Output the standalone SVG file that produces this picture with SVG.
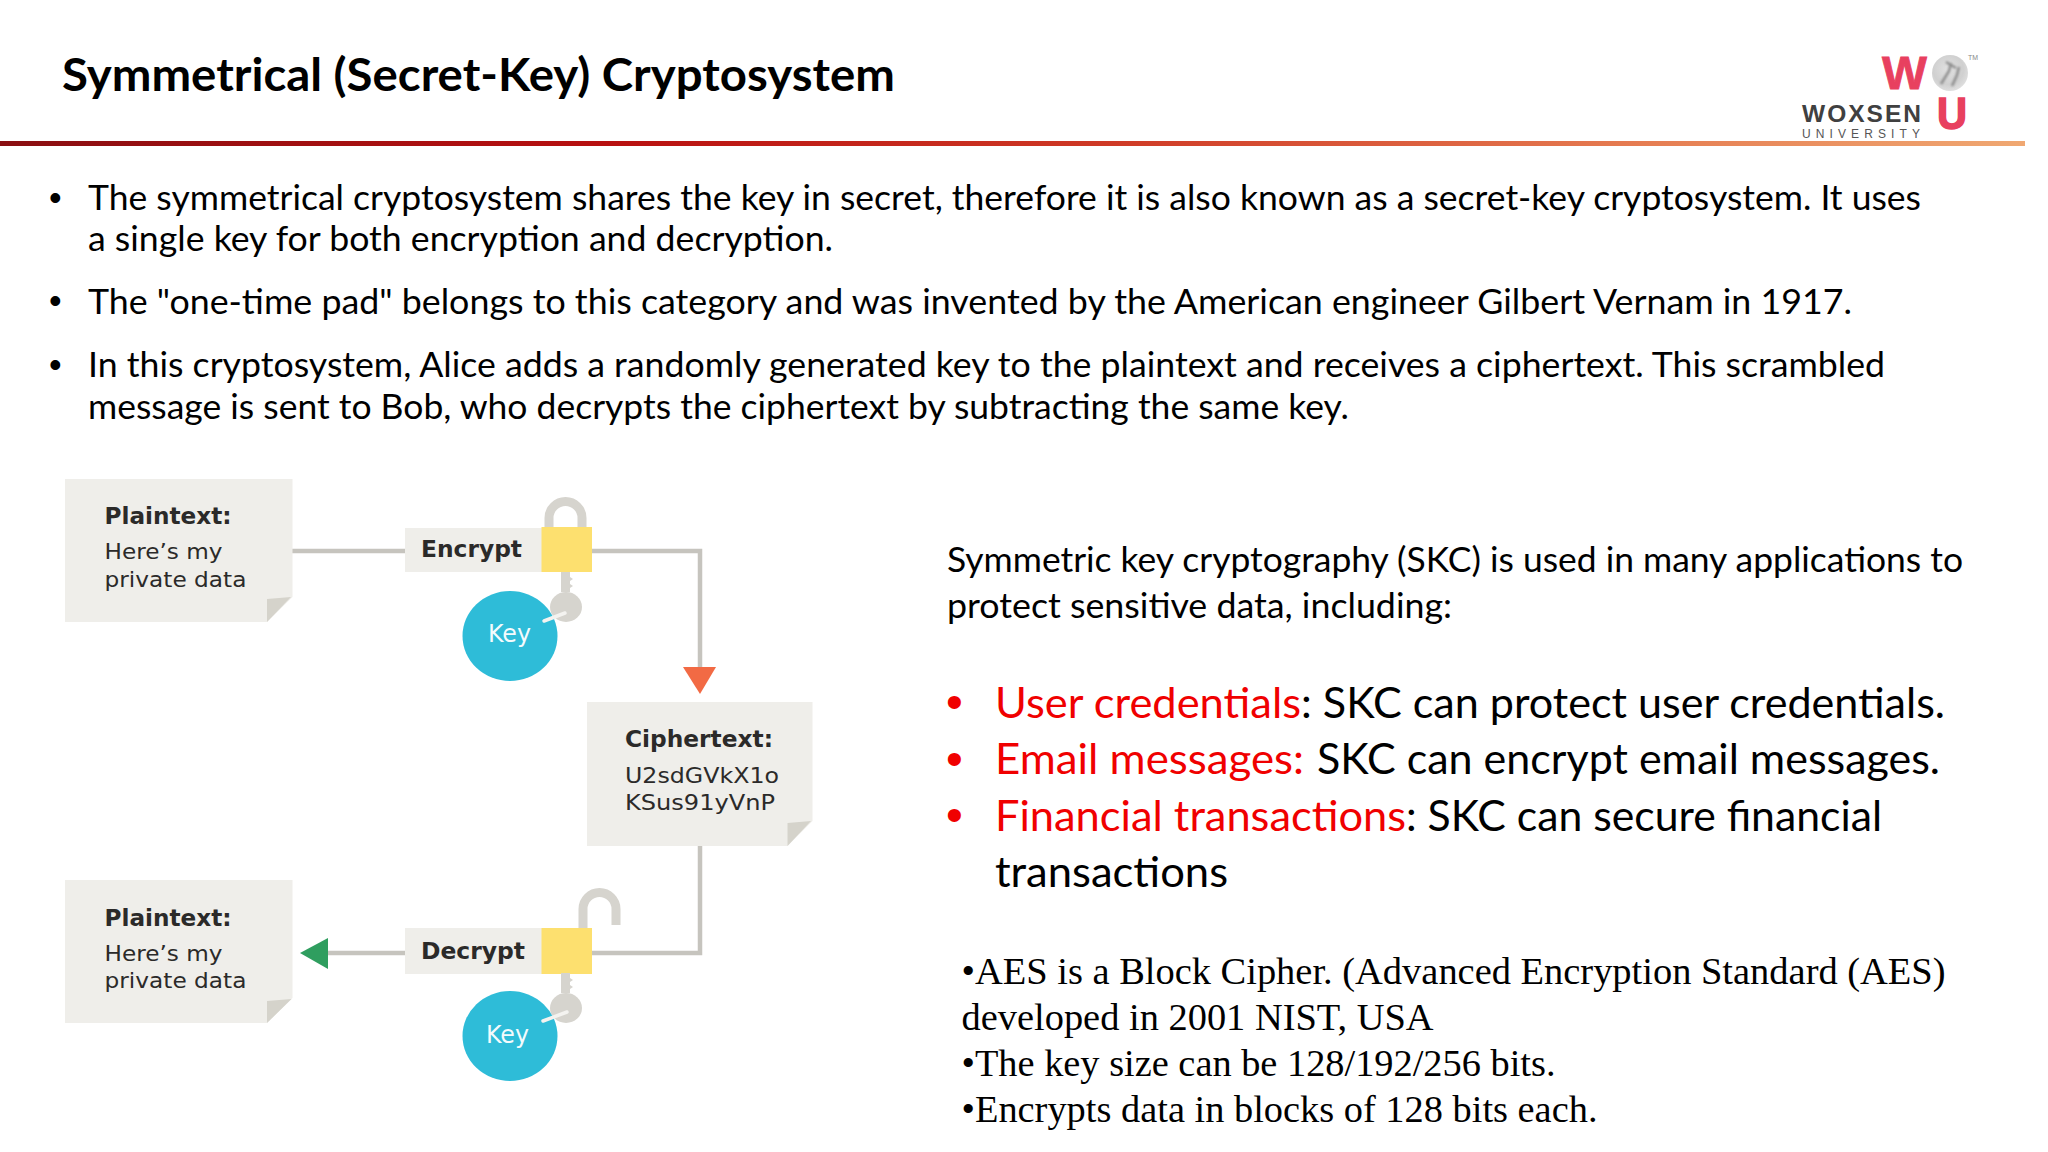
<svg xmlns="http://www.w3.org/2000/svg" width="2048" height="1152" viewBox="0 0 2048 1152">
<style>
.ttl{font:700 46px Lato,"Liberation Sans",sans-serif;fill:#000}
.b{font:400 35px Lato,"Liberation Sans",sans-serif;fill:#000}
.bl{font:400 36px "Liberation Sans",sans-serif;fill:#000}
.m{font:400 35px Lato,"Liberation Sans",sans-serif;fill:#000}
.l{font:400 42px Lato,"Liberation Sans",sans-serif;fill:#000}
.rb{font:400 48px "Liberation Sans",sans-serif;fill:#f00000}
.s{font:400 38px "Liberation Serif",serif;fill:#000}
.db{font:700 23px "DejaVu Sans",sans-serif;fill:#2b2a29}
.d{font:400 22px "DejaVu Sans",sans-serif;fill:#2b2a29}
.k{font:400 24px "DejaVu Sans",sans-serif;fill:#f4fbfd}
.paper{fill:#efeeea}
.fold{fill:#d5d3cb}
.lock{fill:#fde06f}
.tag{fill:#2ebcd8}
.metal{fill:#d6d4ce}
.shackle{fill:none;stroke:#d6d4ce;stroke-width:9}
.conn{fill:none;stroke:#c6c4be;stroke-width:4.500}
.str{fill:none;stroke:#f4f3f0;stroke-width:3.500;stroke-linecap:round}
</style>
<defs>
<linearGradient id="rule" x1="0" x2="1" y1="0" y2="0">
<stop offset="0" stop-color="#8a0f12"/><stop offset="0.3" stop-color="#b81010"/><stop offset="0.55" stop-color="#cf3a26"/><stop offset="0.8" stop-color="#e57a50"/><stop offset="1" stop-color="#f0a872"/>
</linearGradient>
<radialGradient id="globe" cx="0.45" cy="0.4" r="0.7"><stop offset="0" stop-color="#e2e2e2"/><stop offset="0.6" stop-color="#d0d0d0"/><stop offset="1" stop-color="#e6e6e6"/></radialGradient>
<filter id="soft" x="-20%" y="-20%" width="140%" height="140%"><feGaussianBlur stdDeviation="0.900"/></filter>
<g id="keyshape">
<path class="metal" d="M561 0h9v5l3 2-3 2v3l3 2-3 2v4h-9z"/>
<ellipse class="metal" cx="566" cy="35" rx="16" ry="15"/>
</g>
</defs>
<rect width="2048" height="1152" fill="#fff"/>
<g id="header">
<text class="ttl" x="62" y="91" textLength="833" lengthAdjust="spacingAndGlyphs">Symmetrical (Secret-Key) Cryptosystem</text>
<rect x="0" y="141" width="2025" height="5" fill="url(#rule)"/>
</g>
<g id="logo">
<text x="1882" y="89" font-family="Liberation Sans, sans-serif" font-weight="700" font-size="47" fill="#e8405f" stroke="#e8405f" stroke-width="0.800" textLength="45" lengthAdjust="spacingAndGlyphs">W</text>
<circle cx="1950" cy="73" r="18" fill="url(#globe)"/>
<path d="M1941 84l8-13 2-8M1952 86l5-11 2-8M1946 62l10 6" stroke="#8e8e8e" stroke-width="2.500" fill="none" filter="url(#soft)"/>
<text x="1968" y="60" font-family="Liberation Sans, sans-serif" font-size="8" fill="#888" textLength="10" lengthAdjust="spacingAndGlyphs">TM</text>
<text x="1937" y="129" font-family="Liberation Sans, sans-serif" font-weight="700" font-size="44" fill="#e8405f" stroke="#e8405f" stroke-width="1.500" textLength="30" lengthAdjust="spacingAndGlyphs">U</text>
<text x="1802" y="121.500" font-family="Liberation Sans, sans-serif" font-weight="700" font-size="24.500" fill="#404040" textLength="119" lengthAdjust="spacing">WOXSEN</text>
<text x="1802" y="138" font-family="Liberation Sans, sans-serif" font-size="12" fill="#555" textLength="118" lengthAdjust="spacing">UNIVERSITY</text>
</g>
<g id="bullets">
<text class="bl" x="49" y="210">•</text>
<text class="b" x="88" y="210" textLength="1833" lengthAdjust="spacingAndGlyphs">The symmetrical cryptosystem shares the key in secret, therefore it is also known as a secret-key cryptosystem. It uses</text>
<text class="b" x="88" y="251" textLength="745" lengthAdjust="spacingAndGlyphs">a single key for both encryption and decryption.</text>
<text class="bl" x="49" y="313">•</text>
<text class="b" x="88" y="314" textLength="1764" lengthAdjust="spacingAndGlyphs">The "one-time pad" belongs to this category and was invented by the American engineer Gilbert Vernam in 1917.</text>
<text class="bl" x="49" y="377">•</text>
<text class="b" x="88" y="377" textLength="1797" lengthAdjust="spacingAndGlyphs">In this cryptosystem, Alice adds a randomly generated key to the plaintext and receives a ciphertext. This scrambled</text>
<text class="b" x="88" y="418.500" textLength="1261" lengthAdjust="spacingAndGlyphs">message is sent to Bob, who decrypts the ciphertext by subtracting the same key.</text>
</g>
<g id="connectors">
<path class="conn" d="M292 551H405"/>
<path class="conn" d="M592 551H700V668"/>
<polygon points="683,667 716,667 700,694" fill="#f26a44"/>
<path class="conn" d="M700 846V953H592"/>
<path class="conn" d="M405 953H326"/>
<polygon points="300,953 328,938 328,969" fill="#2f9e5f"/>
</g>
<g id="plaintext-in">
<polygon class="paper" points="65,479 292.500,479 292.500,597 267,622 65,622"/>
<polygon class="fold" points="267,622 267,599 291,597"/>
<text class="db" x="104.500" y="524" textLength="127" lengthAdjust="spacingAndGlyphs">Plaintext:</text>
<text class="d" x="104.500" y="559" textLength="118" lengthAdjust="spacingAndGlyphs">Here’s my</text>
<text class="d" x="104.500" y="587" textLength="142" lengthAdjust="spacingAndGlyphs">private data</text>
</g>
<g id="encrypt">
<path class="shackle" d="M549 530V518a16.500 16.500 0 0 1 33 0V530"/>
<rect class="paper" x="405" y="528" width="137" height="44"/>
<rect class="lock" x="541.500" y="527" width="50.500" height="45"/>
<text class="db" x="421" y="557" textLength="101" lengthAdjust="spacingAndGlyphs">Encrypt</text>
</g>
<g id="key-1">
<use href="#keyshape" y="572"/>
<ellipse class="tag" cx="510" cy="636" rx="47.500" ry="45"/>
<path class="str" d="M544 621L565 613"/>
<text class="k" x="488" y="642" textLength="43" lengthAdjust="spacingAndGlyphs">Key</text>
</g>
<g id="ciphertext">
<polygon class="paper" points="587,702 812.500,702 812.500,821 787.500,846 587,846"/>
<polygon class="fold" points="787.500,846 787.500,823 811,821"/>
<text class="db" x="625" y="747" textLength="148" lengthAdjust="spacingAndGlyphs">Ciphertext:</text>
<text class="d" x="625" y="783" textLength="154" lengthAdjust="spacingAndGlyphs">U2sdGVkX1o</text>
<text class="d" x="625" y="810" textLength="150" lengthAdjust="spacingAndGlyphs">KSus91yVnP</text>
</g>
<g id="decrypt">
<path class="shackle" d="M583 930V909a16.500 16.500 0 0 1 33 0V925"/>
<rect class="paper" x="405" y="928" width="137" height="46"/>
<rect class="lock" x="541.500" y="928" width="50.500" height="46"/>
<text class="db" x="421" y="959" textLength="104" lengthAdjust="spacingAndGlyphs">Decrypt</text>
</g>
<g id="key-2">
<use href="#keyshape" y="973"/>
<ellipse class="tag" cx="510" cy="1036" rx="47.500" ry="45"/>
<path class="str" d="M543 1021L567 1012"/>
<text class="k" x="486" y="1043" textLength="43" lengthAdjust="spacingAndGlyphs">Key</text>
</g>
<g id="plaintext-out">
<polygon class="paper" points="65,880 292.500,880 292.500,998 267,1023 65,1023"/>
<polygon class="fold" points="267,1023 267,1001 291.500,999"/>
<text class="db" x="104.500" y="926" textLength="127" lengthAdjust="spacingAndGlyphs">Plaintext:</text>
<text class="d" x="104.500" y="961" textLength="118" lengthAdjust="spacingAndGlyphs">Here’s my</text>
<text class="d" x="104.500" y="988" textLength="142" lengthAdjust="spacingAndGlyphs">private data</text>
</g>
<g id="applications">
<text class="m" x="947" y="571.500" textLength="1016" lengthAdjust="spacingAndGlyphs">Symmetric key cryptography (SKC) is used in many applications to</text>
<text class="m" x="947" y="618" textLength="505" lengthAdjust="spacingAndGlyphs">protect sensitive data, including:</text>
<text class="rb" x="946" y="718">•</text>
<text class="l" x="995" y="718" textLength="306" lengthAdjust="spacingAndGlyphs" style="fill:#f00000">User credentials</text>
<text class="l" x="1301" y="718" textLength="644" lengthAdjust="spacingAndGlyphs">: SKC can protect user credentials.</text>
<text class="rb" x="946" y="775">•</text>
<text class="l" x="995" y="774" textLength="309" lengthAdjust="spacingAndGlyphs" style="fill:#f00000">Email messages:</text>
<text class="l" x="1317" y="774" textLength="623" lengthAdjust="spacingAndGlyphs">SKC can encrypt email messages.</text>
<text class="rb" x="946" y="831">•</text>
<text class="l" x="995" y="831" textLength="411" lengthAdjust="spacingAndGlyphs" style="fill:#f00000">Financial transactions</text>
<text class="l" x="1406" y="831" textLength="476" lengthAdjust="spacingAndGlyphs">: SKC can secure financial</text>
<text class="l" x="995" y="887" textLength="233" lengthAdjust="spacingAndGlyphs">transactions</text>
</g>
<g id="aes">
<text class="s" x="961.500" y="984" textLength="984" lengthAdjust="spacingAndGlyphs">•AES is a Block Cipher. (Advanced Encryption Standard (AES)</text>
<text class="s" x="961.500" y="1030" textLength="472" lengthAdjust="spacingAndGlyphs">developed in 2001 NIST, USA</text>
<text class="s" x="961.500" y="1076" textLength="594" lengthAdjust="spacingAndGlyphs">•The key size can be 128/192/256 bits.</text>
<text class="s" x="961.500" y="1122" textLength="636" lengthAdjust="spacingAndGlyphs">•Encrypts data in blocks of 128 bits each.</text>
</g>
</svg>
